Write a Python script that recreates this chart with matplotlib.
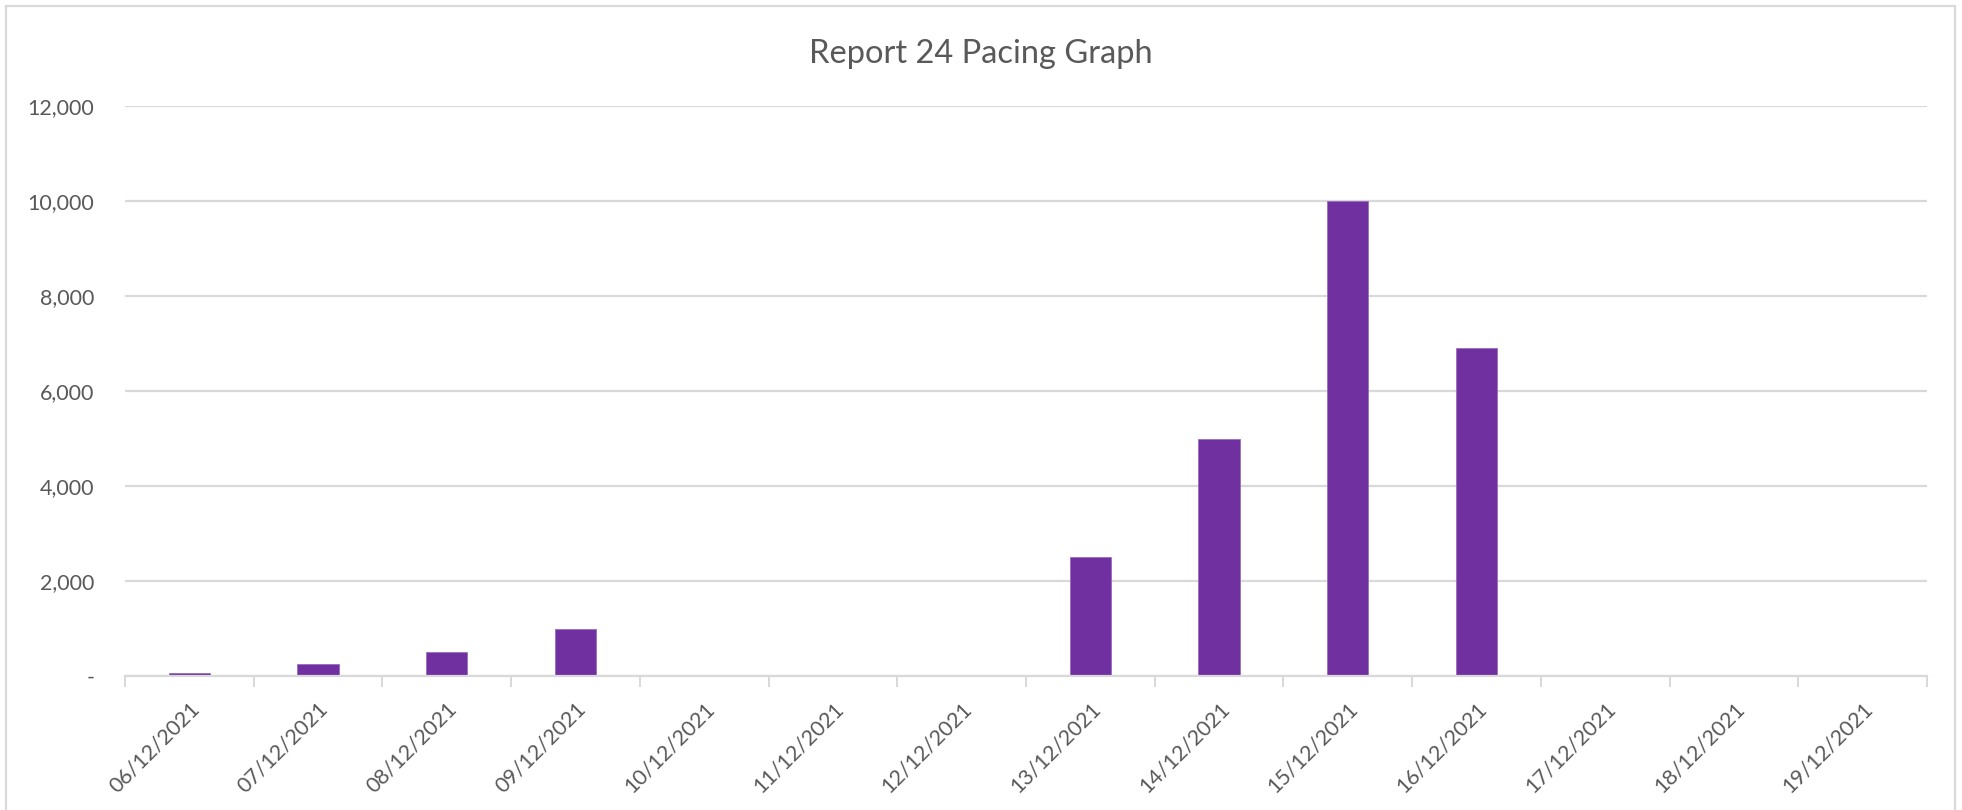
import matplotlib.pyplot as plt
from matplotlib.ticker import FuncFormatter
from matplotlib.patches import Rectangle
import numpy as np

# data
dates = ['06/12/2021', '07/12/2021', '08/12/2021', '09/12/2021', '10/12/2021',
         '11/12/2021', '12/12/2021', '13/12/2021', '14/12/2021', '15/12/2021',
         '16/12/2021', '17/12/2021', '18/12/2021', '19/12/2021']
pacing = [70, 250, 500, 1000, 0, 0, 0, 2500, 5000, 10000, 6900, 0, 0, 0]
y_ticks = [0, 2000, 4000, 6000, 8000, 10000, 12000]

text_col = '#595959'
grid_col = '#D9D9D9'
bar_col = '#7030A0'

plt.rcParams['font.family'] = ['Lato', 'DejaVu Sans']

fig = plt.figure(figsize=(19.62, 8.10), dpi=100)
ax = fig.add_axes([125 / 1962, 1 - 676 / 810, (1927 - 125) / 1962, (676 - 106) / 810])

x = np.arange(len(dates))
ax.bar(x, pacing, width=0.32, color=bar_col, edgecolor='#9A6CC0', linewidth=0.6, zorder=3)

ax.set_xlim(-0.5, len(dates) - 0.5)
ax.set_ylim(0, 12000)
ax.set_yticks(y_ticks)
ax.yaxis.set_major_formatter(FuncFormatter(lambda v, p: '-' if v == 0 else f'{int(v):,}'))
ax.grid(axis='y', color=grid_col, linewidth=1.6, zorder=0)

# category boundaries get the tick marks, labels sit at bar centres
ax.set_xticks(np.arange(-0.5, len(dates)), minor=False)
ax.set_xticklabels([])
ax.set_xticks(x, minor=True)
ax.set_xticklabels(dates, minor=True, rotation=45, ha='right', rotation_mode='anchor',
                   fontsize=15.5, color=text_col)
ax.tick_params(axis='x', which='major', length=8, width=1.4, color=grid_col)
ax.tick_params(axis='x', which='minor', length=0, pad=16)
ax.tick_params(axis='y', length=0, pad=22, labelsize=15.5, labelcolor=text_col)

for s in ['top', 'right', 'left']:
    ax.spines[s].set_visible(False)
ax.spines['bottom'].set_color(grid_col)
ax.spines['bottom'].set_linewidth(1.6)
ax.spines['bottom'].set_zorder(4)

fig.text(0.5, 1 - 54 / 810, 'Report 24 Pacing Graph', ha='center', va='center',
         fontsize=23.5, color=text_col)

# light outer frame of the chart area
fig.patches.append(Rectangle((6 / 1962, -0.01), 1 - 13 / 1962, 1 - 6 / 810 + 0.01,
                             transform=fig.transFigure, fill=False,
                             edgecolor=grid_col, linewidth=1.6))

fig.savefig('out.png', dpi=100)
